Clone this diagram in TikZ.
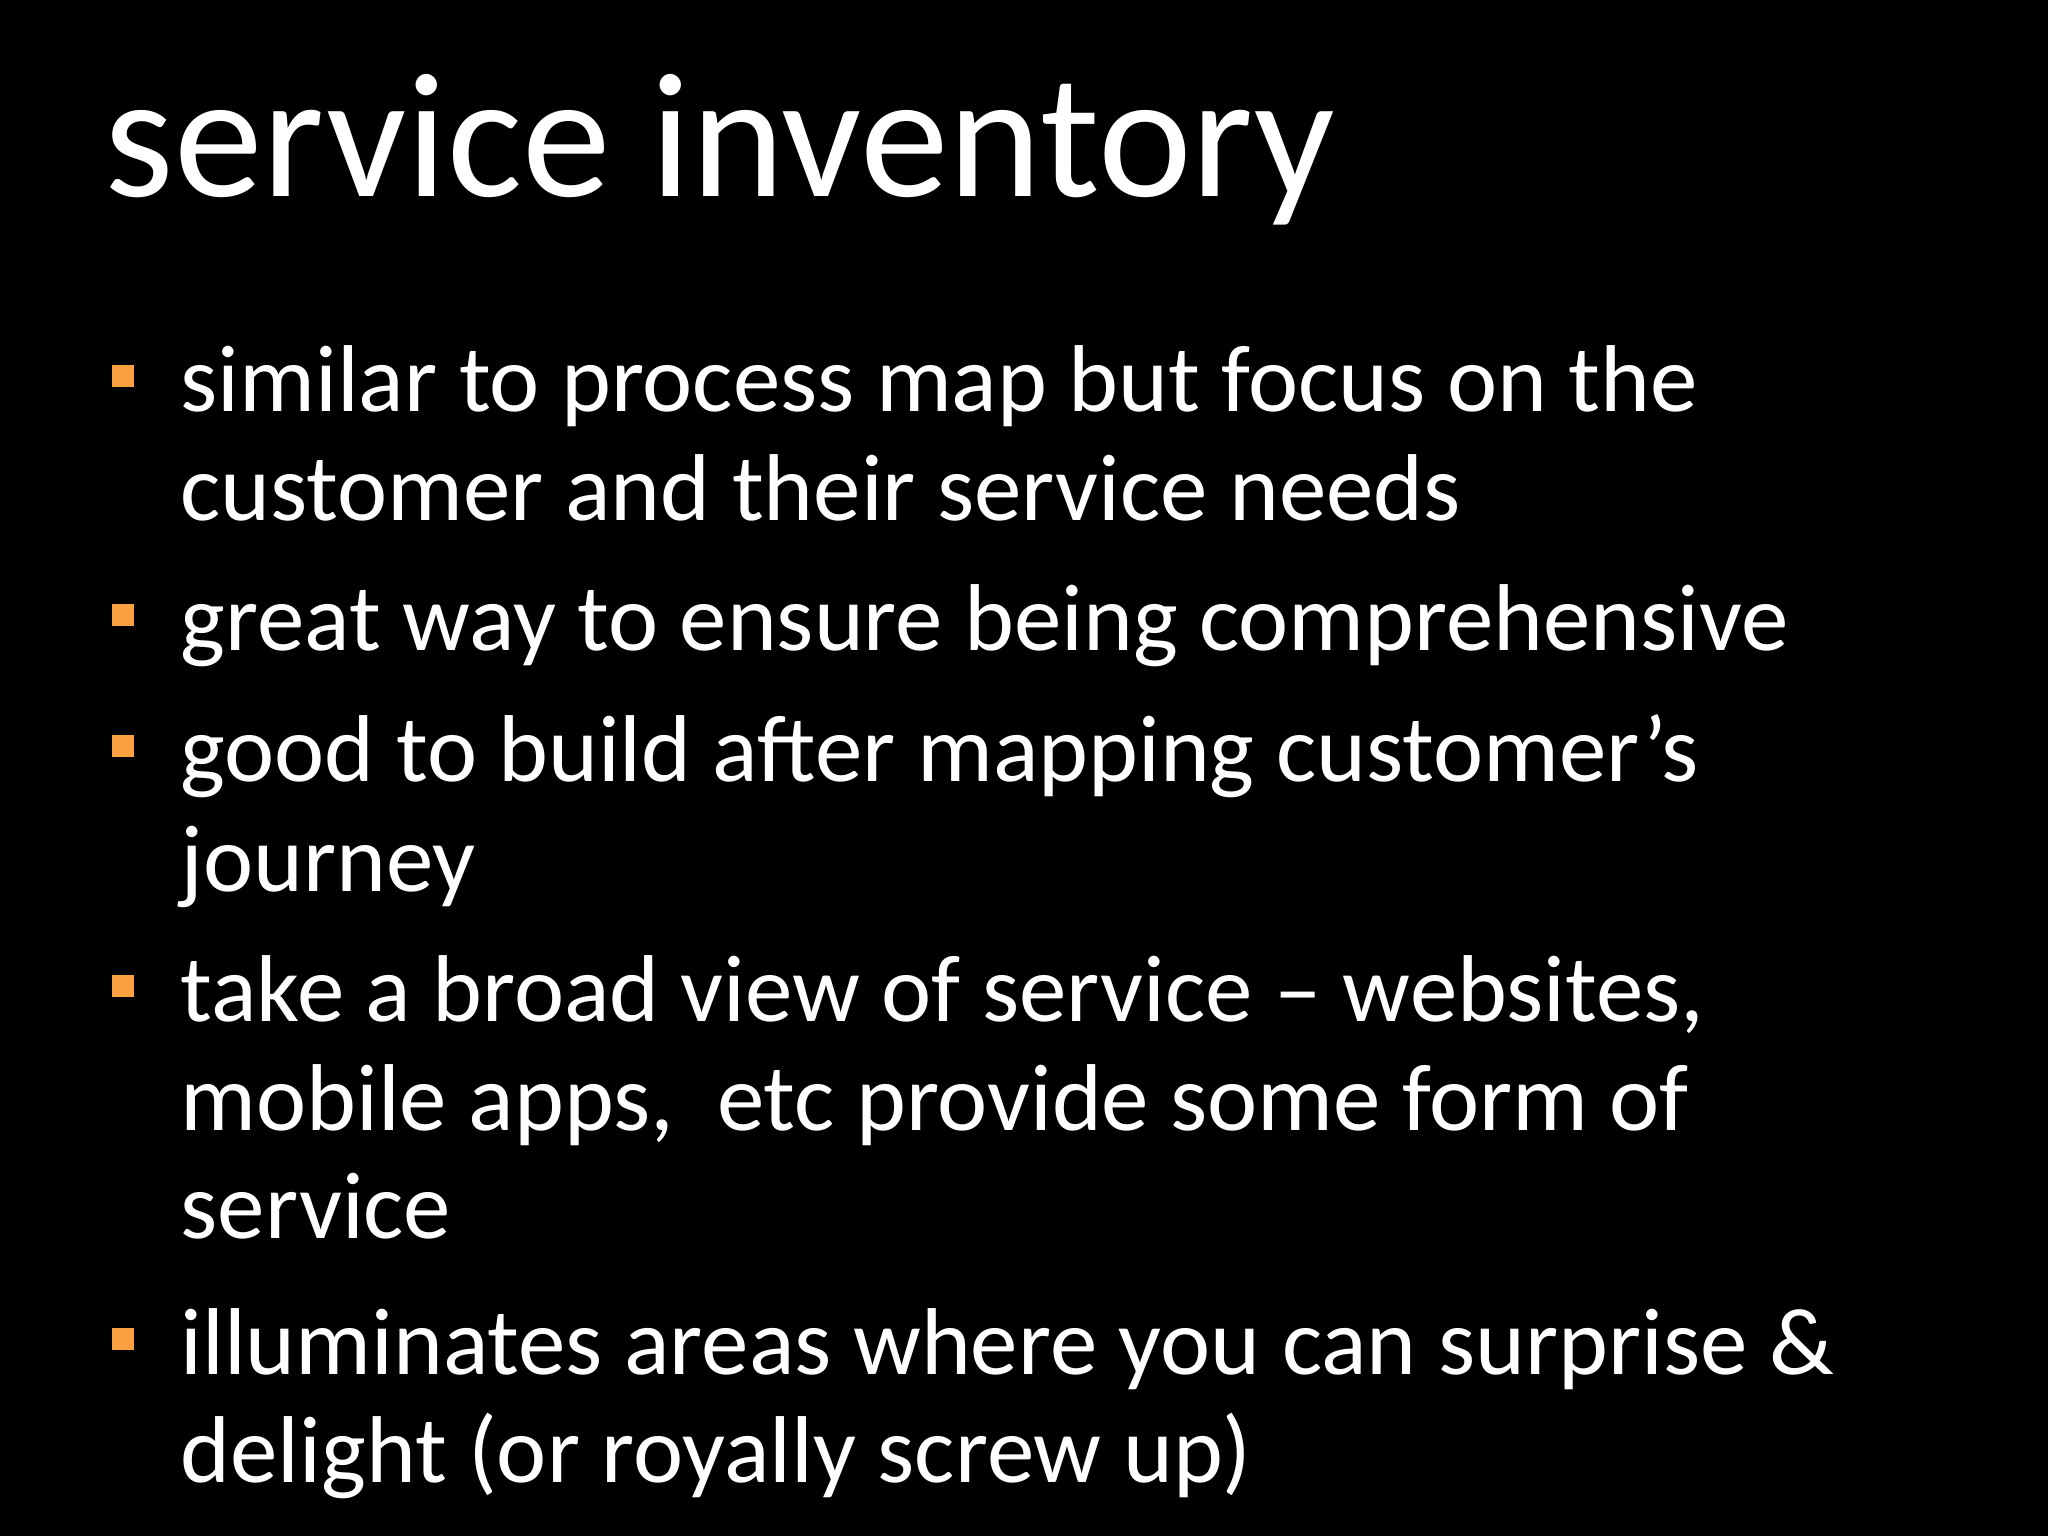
\documentclass[tikz,border=0pt]{standalone}
\usepackage{fontspec}
\setmainfont{Carlito}
\definecolor{bulc}{HTML}{F9A040}
\begin{document}
\begin{tikzpicture}[x=0.01cm,y=-0.01cm,
  ln/.style={anchor=base west,inner sep=0pt,text=white,font=\fontsize{27}{30}\selectfont},
  bul/.style={fill=bulc,minimum width=0.22cm,minimum height=0.22cm,inner sep=0pt}]
\fill[black] (0,0) rectangle (2048,1536);
\useasboundingbox (0,0) rectangle (2048,1536);
\node[anchor=base west,inner sep=0pt,text=white,font=\fontsize{50.5}{54}\selectfont] (title) at (104,196) {service inventory};
\foreach \y/\t [count=\i] in {411/similar to process map but focus on the,520/customer and their service needs,650/great way to ensure being comprehensive,781/good to build after mapping customer’s,891/journey,1021/{take a broad view of service – websites,},1130/{mobile apps,\ \ etc provide some form of},1238/service,1374/illuminates areas where you can surprise \&,1482/delight (or royally screw up)}
  \node[ln] (l\i) at (180,\y) {\t};
\foreach \y/\n in {411/b1,650/b2,781/b3,1021/b4,1374/b5}
  \node[bul] (\n) at (123,\y-35) {};
\end{tikzpicture}
\end{document}
